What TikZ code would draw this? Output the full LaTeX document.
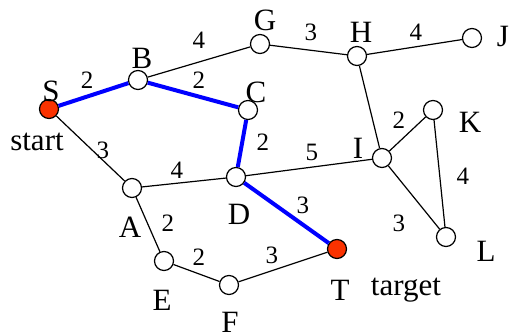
\documentclass[tikz,border=0pt]{standalone}
\usepackage{fontspec}
\setmainfont{Liberation Serif}
\definecolor{endred}{RGB}{250,50,0}

\begin{document}
\begin{tikzpicture}[x=0.5pt, y=-0.5pt, line width=0.6pt,
  vtx/.style={circle, draw, fill=white, minimum size=9.5pt, inner sep=0pt},
  endv/.style={vtx, fill=endred},
  lbl/.style={font=\fontsize{15.5}{17}\selectfont, inner sep=0pt},
  wt/.style={font=\fontsize{12.5}{14}\selectfont, inner sep=0pt},
  route/.style={blue, line width=2pt}]
\useasboundingbox (0,0) rectangle (511,336);
% vertices
\node[endv] (S) at (49,109) {};
\node[vtx] (B) at (138,80) {};
\node[vtx] (C) at (248,110) {};
\node[vtx] (G) at (260,44) {};
\node[vtx] (H) at (357,56) {};
\node[vtx] (J) at (472,38) {};
\node[vtx] (K) at (433,110) {};
\node[vtx] (I) at (382,158) {};
\node[vtx] (A) at (132,188) {};
\node[vtx] (D) at (236,177) {};
\node[vtx] (E) at (164,261) {};
\node[vtx] (F) at (229,285) {};
\node[endv] (T) at (337,249) {};
\node[vtx] (L) at (446,237) {};
% edges
\draw (S) -- (A);
\draw (B) -- (G);
\draw (G) -- (H);
\draw (H) -- (J);
\draw (H) -- (I);
\draw (A) -- (D);
\draw (D) -- (I);
\draw (I) -- (K);
\draw (I) -- (L);
\draw (K) -- (L);
\draw (A) -- (E);
\draw (E) -- (F);
\draw (F) -- (T);
% shortest path
\draw[route] (S) -- (B) -- (C) -- (D) -- (T);
% vertex names
\node[lbl] (lS) at (51,91) {S};
\node[lbl] (lstart) at (37,142) {start};
\node[lbl] (lB) at (142,58) {B};
\node[lbl] (lC) at (256,92) {C};
\node[lbl] (lG) at (265,20) {G};
\node[lbl] (lH) at (361,32) {H};
\node[lbl] (lJ) at (503,37) {J};
\node[lbl] (lK) at (470,122) {K};
\node[lbl] (lI) at (358,148) {I};
\node[lbl] (lA) at (130,227) {A};
\node[lbl] (lD) at (239,214) {D};
\node[lbl] (lE) at (162,300) {E};
\node[lbl] (lF) at (230,322) {F};
\node[lbl] (lT) at (340,290) {T};
\node[lbl] (ltarget) at (406,290) {target};
\node[lbl] (lL) at (486,251) {L};
% weights
\node[wt] (wSB) at (87,80) {2};
\node[wt] (wBG) at (199,40) {4};
\node[wt] (wBC) at (199,80) {2};
\node[wt] (wSA) at (103,150) {3};
\node[wt] (wAD) at (177,170) {4};
\node[wt] (wCD) at (263,142) {2};
\node[wt] (wGH) at (311,32) {3};
\node[wt] (wHJ) at (416,32) {4};
\node[wt] (wIK) at (399,120) {2};
\node[wt] (wDI) at (312,152) {5};
\node[wt] (wKL) at (463,176) {4};
\node[wt] (wIL) at (399,223) {3};
\node[wt] (wDT) at (303,205) {3};
\node[wt] (wFT) at (272,255) {3};
\node[wt] (wAE) at (168,223) {2};
\node[wt] (wEF) at (199,257) {2};
\end{tikzpicture}
\end{document}
